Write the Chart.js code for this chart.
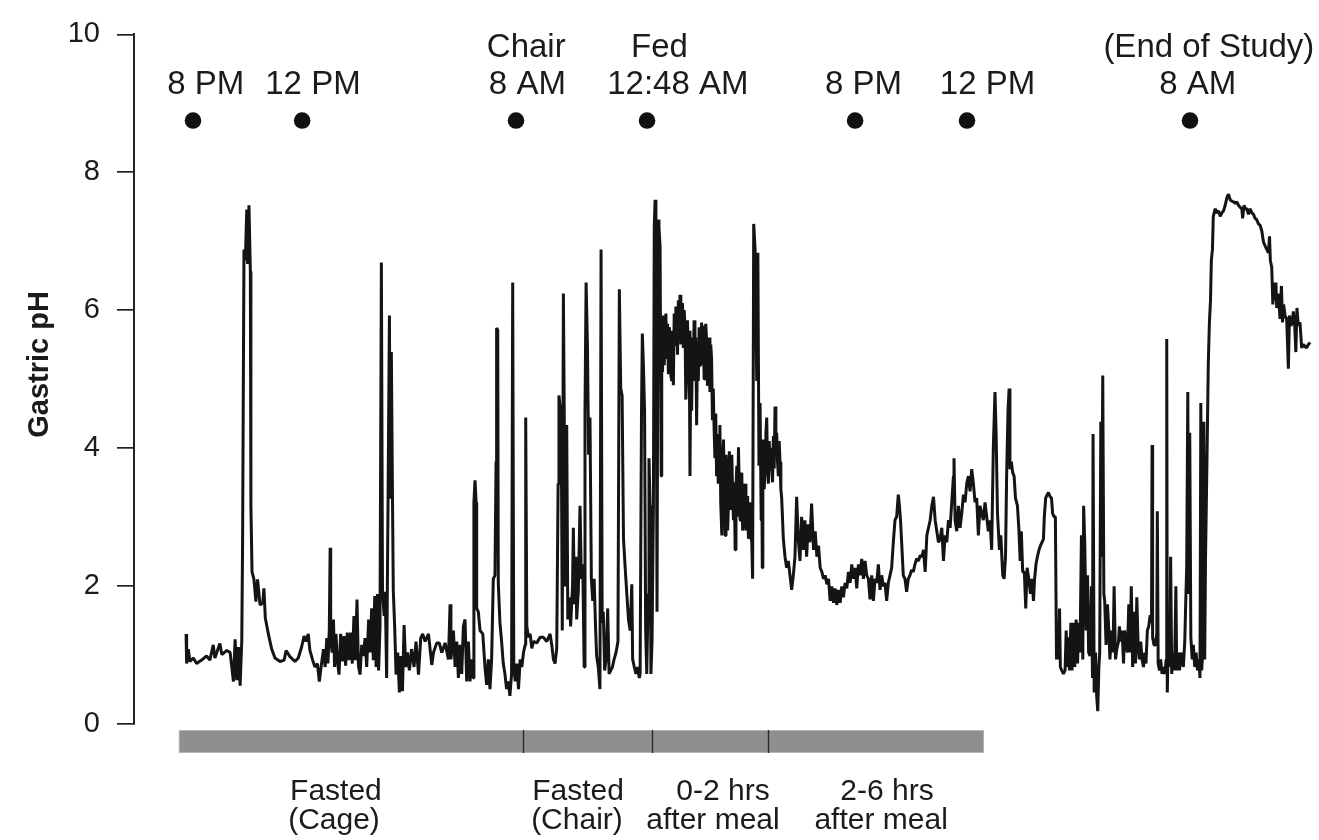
<!DOCTYPE html>
<html>
<head>
<meta charset="utf-8">
<script src="https://cdn.jsdelivr.net/npm/chart.js@4/dist/chart.umd.min.js"></script>
<style>
html,body{margin:0;padding:0;background:#ffffff;}
#wrap{width:1319px;height:840px;position:relative;}
</style>
</head>
<body>
<div id="wrap"><canvas id="c"></canvas></div>
<script>
// ---- data (time in hours after the 8 PM start mark, gastric pH) ----
const hours = [
-0.25,-0.23,-0.17,-0.11,0.01,0.13,0.31,0.49,0.61,0.73,
0.79,0.97,1.04,1.22,1.34,1.46,1.52,1.58,1.64,1.70,
1.76,1.79,1.84,1.89,1.94,1.97,2.02,2.07,2.09,2.13,
2.20,2.27,2.33,2.42,2.52,2.56,2.61,2.72,2.84,2.96,
3.14,3.29,3.36,3.50,3.68,3.80,3.92,4.01,4.08,4.16,
4.22,4.32,4.40,4.49,4.56,4.63,4.71,4.77,4.83,4.87,
4.92,4.95,4.97,5.02,5.07,5.11,5.16,5.21,5.27,5.33,
5.39,5.45,5.51,5.57,5.63,5.69,5.75,5.81,5.86,5.92,
5.97,6.03,6.09,6.15,6.21,6.27,6.34,6.39,6.45,6.51,
6.56,6.61,6.66,6.70,6.75,6.80,6.84,6.90,6.94,6.99,
7.04,7.09,7.12,7.16,7.20,7.23,7.28,7.33,7.39,7.45,
7.50,7.56,7.62,7.68,7.74,7.81,7.89,7.98,8.05,8.14,
8.22,8.29,8.38,8.50,
8.62,8.68,8.80,8.89,8.98,9.10,9.22,9.28,9.31,9.40,
9.46,9.52,9.58,9.64,9.70,9.76,9.82,9.88,9.94,10.00,
10.06,10.12,10.14,10.18,10.22,10.24,10.30,10.36,10.46,10.54,
10.60,10.66,10.72,10.78,10.84,10.90,10.94,10.96,11.00,11.02,
11.08,11.14,11.20,11.26,11.32,11.38,11.44,11.50,11.54,11.58,
11.63,11.69,11.75,11.81,11.87,11.93,11.99,12.01,12.05,12.11,
12.17,12.23,12.29,12.41,12.53,12.65,12.77,12.89,12.95,13.01,
13.07,13.13,13.18,13.21,13.25,13.30,13.33,13.37,13.41,13.44,
13.49,13.53,13.59,13.63,13.70,13.73,13.77,13.82,13.85,13.91,
13.97,14.02,14.07,14.12,14.15,14.19,14.24,14.28,14.33,14.38,
14.43,14.48,14.53,14.57,14.63,14.69,14.73,14.77,14.81,14.86,
14.91,14.97,15.02,15.08,15.14,15.20,15.27,15.34,15.39,15.44,
15.49,15.54,15.60,15.66,15.72,15.78,15.84,15.87,15.93,15.99,
16.05,16.11,
16.14,16.19,16.22,16.26,16.30,16.34,16.38,16.43,16.46,16.50,
16.53,16.57,16.62,16.65,16.68,16.71,16.75,16.79,16.82,16.86,
16.90,16.92,16.93,16.95,16.98,17.01,17.04,17.07,17.10,17.13,
17.16,17.19,17.22,17.25,17.28,17.31,17.34,17.37,17.40,17.43,
17.46,17.49,17.52,17.55,17.58,17.61,17.64,17.67,17.70,17.73,
17.76,17.79,17.82,17.85,17.88,17.91,17.94,17.97,18.00,18.03,
18.06,18.09,18.12,18.15,18.18,18.21,18.24,18.27,18.30,18.33,
18.36,18.39,18.42,18.45,18.48,18.51,18.54,18.57,18.60,18.63,
18.66,18.69,18.72,18.75,18.78,18.81,18.84,18.87,18.90,18.93,
18.96,18.99,19.02,19.05,19.09,19.12,19.15,19.18,19.21,19.24,
19.27,19.30,19.33,19.36,19.39,19.42,19.45,19.48,19.51,19.54,
19.57,19.60,19.63,19.66,19.69,19.72,19.75,19.78,19.81,19.84,
19.87,19.90,19.93,19.96,19.99,20.02,20.05,20.08,20.11,20.14,
20.17,20.20,20.24,20.29,20.35,20.39,20.43,20.47,20.51,20.53,
20.55,20.57,20.59,20.62,20.65,20.68,20.71,20.74,20.77,20.80,
20.83,20.86,20.89,20.92,20.95,20.98,21.01,21.04,21.07,21.10,
21.13,21.16,21.19,21.22,21.25,21.31,21.37,21.43,
21.49,21.55,21.61,21.67,21.73,21.79,21.85,21.91,21.97,22.03,
22.09,22.15,22.21,22.27,22.33,22.40,22.46,22.52,22.58,22.64,
22.70,22.76,22.82,22.88,22.94,23.00,23.06,23.12,23.18,23.24,
23.30,23.36,23.42,23.48,23.54,23.60,23.66,23.72,23.78,23.84,
23.90,23.96,24.02,24.08,24.14,24.20,24.26,24.32,24.38,24.44,
24.50,24.56,24.62,24.68,24.74,24.80,24.86,24.92,24.98,25.04,
25.10,25.16,25.22,25.28,25.34,25.40,25.46,25.50,25.54,25.58,
25.64,25.70,25.76,25.82,25.88,25.94,26.00,26.06,26.12,26.19,
26.25,26.31,26.37,26.43,26.49,26.55,26.61,26.67,26.73,26.79,
26.85,26.91,
26.97,27.03,27.09,27.15,27.21,27.27,27.33,27.39,27.45,27.47,
27.51,27.57,27.63,27.69,27.75,27.81,27.87,27.93,27.99,28.05,
28.11,28.17,28.23,28.29,28.35,28.41,28.47,28.53,28.59,28.65,
28.71,28.77,28.83,28.89,28.95,28.99,29.04,29.11,29.16,29.23,
29.28,29.33,29.37,29.42,29.46,29.49,29.54,29.59,29.64,29.69,
29.76,29.81,29.86,29.90,29.95,30.01,30.06,30.11,30.17,30.23,
30.28,30.34,30.38,30.43,30.48,30.54,30.59,30.65,30.70,30.73,
30.78,30.83,30.88,30.94,30.99,31.03,31.08,31.13,31.17,31.20,
31.24,31.28,31.31,31.36,31.42,31.48,31.52,31.55,31.59,31.64,
31.69,31.73,31.78,31.83,31.88,31.93,31.97,32.02,32.07,32.12,
32.15,32.19,32.24,32.29,32.33,32.38,32.43,32.47,32.49,32.53,
32.58,32.62,32.66,32.70,32.73,32.77,32.80,32.84,32.88,32.91,
32.96,33.01,33.06,33.10,33.16,33.21,33.25,33.30,33.35,33.41,
33.44,33.49,33.54,33.59,33.63,33.68,33.73,33.78,33.83,33.87,
33.92,33.97,34.02,34.07,34.12,34.16,34.21,34.26,34.31,34.36,
34.40,34.45,34.50,34.55,34.60,34.62,34.64,34.69,34.74,34.79,
34.81,34.84,34.89,34.93,34.98,35.03,35.08,35.13,35.15,35.17,
35.21,35.26,35.29,35.33,35.38,35.43,35.48,35.51,35.56,35.61,
35.66,35.70,35.75,35.80,35.84,35.87,35.91,35.94,35.98,36.02,
36.07,36.11,36.16,36.21,36.26,36.31,36.35,36.38,36.41,36.45,
36.49,36.52,36.55,36.58,36.62,36.65,36.69,36.73,36.76,36.80,
36.83,36.90,36.96,37.02,37.08,37.14,37.20,37.26,37.32,37.38,
37.44,37.50,37.56,37.62,37.68,37.74,37.80,37.86,37.89,37.94,
37.99,38.04,38.10,38.16,38.22,38.28,38.34,38.40,38.46,38.52,
38.58,38.64,38.70,38.76,38.82,38.86,38.89,38.94,38.98,39.01,
39.05,39.09,39.12,39.18,39.24,39.29,39.33,39.37,39.42,39.48,
39.54,39.58,39.63,39.68,39.72,39.77,39.81,39.85,39.90,39.96,
40.02,40.08,40.14,40.20,40.26,40.33
];
const gastricPH = [
1.30,0.87,1.08,0.90,0.95,0.87,0.92,0.98,0.92,1.14,
0.95,1.16,1.00,1.06,1.03,0.61,1.22,0.63,1.11,0.55,
1.19,2.62,6.88,6.72,7.46,6.67,7.52,6.56,3.16,2.20,
2.09,1.77,2.09,1.72,1.75,1.96,1.53,1.30,1.08,0.95,
0.90,0.92,1.06,0.97,0.90,0.95,1.11,1.27,1.19,1.30,
1.06,0.92,0.82,0.87,0.61,0.84,1.08,0.82,1.24,0.87,
1.35,2.55,1.30,1.03,1.51,0.82,1.30,0.92,0.71,1.30,
0.90,1.27,0.84,1.32,0.92,1.32,0.87,1.56,0.92,1.80,
0.84,0.71,1.14,0.98,1.24,0.82,1.51,1.03,1.67,0.92,
1.85,0.82,1.88,0.77,1.40,6.69,1.93,1.56,1.91,0.66,
3.21,5.92,3.26,5.39,3.32,1.93,1.40,0.71,1.03,0.45,
0.98,0.47,1.43,0.82,1.03,0.77,1.08,0.82,1.19,0.71,
1.24,1.30,1.19,1.30,
0.85,1.03,1.17,1.17,1.03,1.17,0.93,1.73,0.93,1.35,
0.82,1.19,0.66,1.14,0.72,1.41,1.51,0.61,1.19,0.61,
0.93,0.66,3.21,3.53,3.21,1.67,1.62,1.35,1.30,0.82,
0.56,0.93,0.50,0.93,2.10,2.15,3.80,5.74,5.71,2.04,
1.46,1.19,0.87,0.72,0.50,0.61,0.40,0.72,6.40,0.82,
0.61,0.87,0.50,0.93,0.82,1.03,1.14,4.44,1.41,1.25,
1.30,1.09,1.19,1.17,1.25,1.25,1.19,1.30,1.14,0.93,
0.87,1.09,3.48,4.76,4.60,3.69,1.35,6.24,4.01,1.99,
4.33,1.51,1.83,1.41,1.99,2.84,1.73,2.42,1.51,1.94,
3.16,2.10,2.31,0.82,4.54,6.40,5.45,3.90,4.44,2.10,
1.78,2.10,1.41,0.98,0.82,0.50,6.88,1.46,1.62,0.77,
0.93,1.67,0.72,0.77,0.82,0.93,1.03,1.19,6.30,4.86,
4.76,2.68,2.26,1.88,1.51,1.35,2.02,0.93,0.82,0.72,
0.82,0.66,
0.72,4.54,5.66,5.18,4.54,1.35,0.72,1.88,3.85,3.16,
0.72,1.19,3.16,7.20,7.60,6.99,1.62,7.31,7.20,6.93,
3.59,5.40,5.87,5.10,5.92,5.20,5.71,5.95,5.29,5.80,
5.07,5.75,5.66,5.05,4.97,5.70,4.91,5.95,5.50,6.05,
5.87,5.35,6.14,5.60,6.22,5.50,5.98,6.10,5.45,6.00,
5.77,4.70,5.02,5.85,5.29,5.70,3.59,5.40,4.54,5.60,
5.29,5.85,4.97,5.60,4.33,5.50,4.97,5.75,5.18,5.30,
5.82,5.20,5.77,5.00,5.29,5.80,5.55,4.90,5.07,5.60,
4.81,5.50,5.29,4.40,4.86,4.30,3.85,4.50,3.59,4.20,
3.48,3.90,4.33,3.20,2.73,3.80,4.12,3.30,2.73,3.90,
3.59,2.80,3.21,3.95,3.59,3.10,3.90,3.30,2.95,3.50,
2.52,3.40,3.74,3.00,4.01,3.40,2.95,3.60,3.64,2.80,
2.95,3.40,3.48,2.80,2.95,3.30,2.68,3.00,3.21,2.70,
2.63,2.10,7.25,6.88,4.97,6.83,3.74,4.65,2.95,3.90,
2.26,3.60,4.12,3.40,3.69,4.20,4.44,3.70,3.48,4.10,
3.69,4.00,3.69,3.50,4.17,3.70,4.60,3.90,4.22,3.80,
3.59,4.10,3.80,3.40,3.27,2.68,2.42,2.26,
2.36,2.15,1.94,2.15,2.42,3.29,2.68,2.36,3.00,2.52,
2.95,2.42,2.89,2.63,3.19,2.52,2.79,2.42,2.58,2.26,
2.20,2.10,2.15,2.02,2.10,1.78,1.99,1.75,1.96,1.72,
1.94,1.75,1.99,1.83,2.04,1.96,2.20,2.04,2.31,2.10,
2.26,1.96,2.31,2.15,2.39,2.10,2.36,2.15,2.10,1.80,
2.15,1.78,2.10,2.04,2.31,1.94,2.15,1.99,2.04,1.78,
2.04,2.15,2.26,2.63,2.95,3.00,3.32,3.16,2.95,2.63,
2.15,2.10,1.91,2.10,2.15,2.23,2.20,2.31,2.39,2.36,
2.44,2.42,2.52,2.20,2.73,2.84,2.95,3.16,3.29,2.95,
2.79,2.63,
2.68,2.84,2.36,2.73,2.63,2.95,2.84,3.21,3.59,3.85,
2.95,2.79,3.16,2.84,3.05,3.32,3.21,3.48,3.59,3.37,
3.69,3.48,3.21,3.27,2.73,3.16,3.05,2.95,3.21,3.00,
2.79,2.95,2.52,4.01,4.81,4.22,3.05,2.52,2.73,2.15,
2.10,2.42,3.59,4.54,4.86,3.69,3.80,3.64,3.59,3.27,
3.16,2.84,2.36,2.79,2.20,2.20,1.67,2.26,2.10,1.88,
2.10,1.78,2.10,2.31,2.42,2.52,2.58,2.63,2.68,3.00,
3.27,3.32,3.35,3.29,3.27,3.05,3.00,3.00,0.93,1.35,
0.93,1.67,0.82,0.77,0.72,0.77,1.35,0.82,1.25,0.77,
1.46,0.77,1.46,0.82,1.51,0.87,1.46,1.03,2.73,0.93,
3.16,2.63,1.35,2.15,1.03,0.98,1.99,0.66,4.20,0.45,
1.03,0.40,0.18,0.82,1.03,4.38,2.42,5.05,1.88,1.78,
1.14,1.73,1.35,0.93,1.35,1.03,1.99,0.93,1.09,1.19,
1.41,1.19,1.35,0.87,1.35,1.14,1.03,1.73,1.03,1.99,
0.82,1.62,0.87,1.83,1.09,0.93,1.19,0.93,0.82,1.03,
0.87,1.35,1.41,1.57,1.46,4.04,1.25,1.14,1.14,1.30,
3.08,0.87,0.77,0.93,0.72,0.82,0.72,0.93,5.58,0.45,
1.35,0.82,2.42,0.72,1.03,0.77,1.99,0.77,1.03,0.77,
1.03,0.93,0.82,1.19,1.83,2.26,4.81,1.88,4.22,1.25,
0.93,1.14,0.82,1.03,0.77,0.93,0.66,4.65,0.77,1.03,
4.38,0.93,2.42,3.21,4.33,5.23,5.82,6.14,6.72,6.88,
7.36,7.47,7.41,7.44,7.36,7.41,7.44,7.52,7.63,7.68,
7.60,7.58,7.57,7.55,7.57,7.52,7.49,7.47,7.33,7.52,
7.47,7.47,7.39,7.47,7.41,7.39,7.33,7.31,7.25,7.23,
7.15,6.99,6.93,6.88,6.83,7.07,6.72,6.62,6.08,6.40,
6.14,6.40,6.03,6.24,5.87,6.35,5.82,6.08,5.92,5.87,
5.15,5.92,5.77,5.82,5.98,5.77,5.39,6.03,5.77,5.82,
5.45,5.50,5.47,5.45,5.50,5.53
];
const yTicks = [0, 2, 4, 6, 8, 10];
const yTitle = 'Gastric pH';
const eventHours = [0, 3.94, 11.66, 16.39, 23.90, 27.94, 35.99];
const eventLevel = 8.75;
const eventLabels = [["8 PM"], ["12 PM"], ["Chair", "8 AM"], ["Fed", "12:48 AM"], ["8 PM"], ["12 PM"], ["(End of Study)", "8 AM"]];
const eventLabelHours = [[0.46], [4.33], [12.03, 12.07], [16.84, 17.50], [24.20], [28.68], [36.67, 36.27]];
const phaseBounds = [-0.51, 11.91, 16.56, 20.76, 28.55];
const phaseLabels = [["Fasted", "(Cage)"], ["Fasted", "(Chair)"], ["0-2 hrs", "after meal"], ["2-6 hrs", "after meal"]];
const phaseLabelHours = [[5.16, 5.09], [13.90, 13.86], [19.13, 18.77], [25.05, 24.84]];

// ---- drawing ----
const FONT = '"Liberation Sans", Arial, Helvetica, sans-serif';
const INK = '#1b1b1b';

const traceData = hours.map((h, i) => ({x: h, y: gastricPH[i]}));
const eventData = eventHours.map(h => ({x: h, y: eventLevel}));

const annotations = {
  id: 'annotations',
  afterDatasetsDraw(chart) {
    const {ctx, chartArea, scales} = chart;
    const xs = scales.x;
    ctx.save();
    // y-axis title
    ctx.save();
    ctx.translate(40, chartArea.top + 330);
    ctx.rotate(-Math.PI / 2);
    ctx.fillStyle = INK;
    ctx.textAlign = 'center';
    ctx.textBaseline = 'middle';
    ctx.font = 'bold 29px ' + FONT;
    ctx.fillText(yTitle, 0, 0);
    ctx.restore();
    // event labels above the dots
    ctx.fillStyle = INK;
    ctx.textAlign = 'center';
    ctx.textBaseline = 'alphabetic';
    ctx.font = '33px ' + FONT;
    const topBase = [chartArea.top + 22.5, chartArea.top + 59.5];
    eventLabels.forEach((lines, i) => {
      lines.forEach((s, j) => {
        const row = 2 - lines.length + j;
        ctx.fillText(s, xs.getPixelForValue(eventLabelHours[i][j]), topBase[row]);
      });
    });
    // phase bar
    const b = chartArea.bottom;
    const x0 = xs.getPixelForValue(phaseBounds[0]);
    const x1 = xs.getPixelForValue(phaseBounds[phaseBounds.length - 1]);
    const barTop = b + 6.5, barH = 23;
    ctx.fillStyle = '#8f8f8f';
    ctx.fillRect(x0, barTop, x1 - x0, barH);
    ctx.strokeStyle = '#b5b5b5';
    ctx.lineWidth = 1;
    ctx.strokeRect(x0 + 0.5, barTop + 0.5, x1 - x0 - 1, barH - 1);
    ctx.strokeStyle = '#2a2a2a';
    ctx.lineWidth = 1.4;
    for (let k = 1; k < phaseBounds.length - 1; k++) {
      const px = Math.round(xs.getPixelForValue(phaseBounds[k])) + 0.5;
      ctx.beginPath();
      ctx.moveTo(px, barTop);
      ctx.lineTo(px, barTop + barH);
      ctx.stroke();
    }
    // phase labels
    ctx.fillStyle = INK;
    ctx.font = '30px ' + FONT;
    const botBase = [b + 76.5, b + 105.5];
    phaseLabels.forEach((lines, i) => {
      lines.forEach((s, j) => {
        ctx.fillText(s, xs.getPixelForValue(phaseLabelHours[i][j]), botBase[j]);
      });
    });
    ctx.restore();
  }
};

new Chart(document.getElementById('c'), {
  type: 'scatter',
  data: {
    datasets: [
      {
        data: eventData,
        showLine: false,
        pointRadius: 8.3,
        pointBackgroundColor: '#111',
        pointBorderWidth: 0,
        order: 0
      },
      {
        data: traceData,
        showLine: true,
        borderColor: '#141414',
        borderWidth: 3,
        borderJoinStyle: 'bevel',
        pointRadius: 0,
        tension: 0,
        order: 1
      }
    ]
  },
  options: {
    responsive: true,
    maintainAspectRatio: false,
    animation: false,
    events: [],
    layout: {autoPadding: false, padding: {left: 0, right: 1, top: 29.5, bottom: 116.5}},
    plugins: {legend: {display: false}, tooltip: {enabled: false}, title: {display: false}},
    scales: {
      x: {
        type: 'linear',
        display: false,
        min: -2.13,
        max: 40.61
      },
      y: {
        type: 'linear',
        min: yTicks[0],
        max: yTicks[yTicks.length - 1],
        afterBuildTicks(scale) { scale.ticks = yTicks.map(v => ({value: v})); },
        afterFit(scale) { scale.width = 134; },
        border: {display: true, color: '#222', width: 2},
        grid: {drawOnChartArea: false, drawTicks: true, tickLength: 17, color: '#222', lineWidth: 1.7},
        ticks: {padding: 17, color: INK, font: {family: FONT, size: 29}}
      }
    }
  },
  plugins: [annotations]
});
</script>
</body>
</html>
